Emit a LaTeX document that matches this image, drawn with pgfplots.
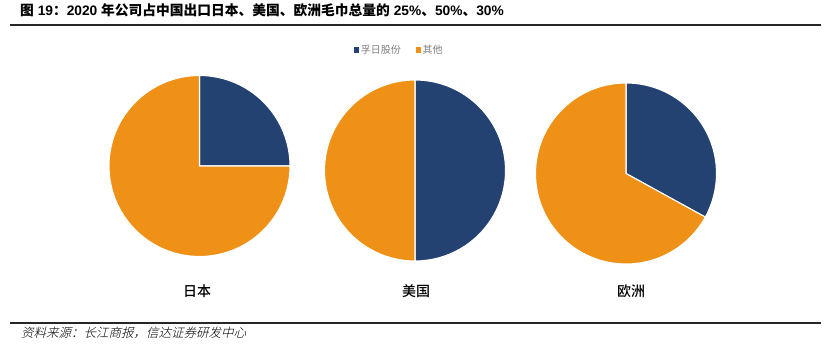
\documentclass[border=0pt]{standalone}
\usepackage{fontspec}
\setmainfont{Liberation Sans}
\newfontfamily\cjk{Noto Sans CJK SC}
\newfontfamily\cjkm{Noto Sans CJK SC Medium}
\newfontfamily\cjkb{Noto Sans CJK SC Bold}
\newfontfamily\cjksl[FakeSlant=0.25]{Noto Sans CJK SC Light}
\usepackage{pgfplots}
\usepackage{pgfplotstable}
\pgfplotsset{compat=1.18}
\definecolor{navy}{HTML}{234272}
\definecolor{orng}{HTML}{EE9116}
\definecolor{legtext}{HTML}{7F7F7F}

\pgfplotstableread{
region furi other
Japan  25 75
USA    50 50
Europe 33 67
}\sharetable
\pgfplotstablegetelem{0}{furi}\of\sharetable\edef\vJ{\pgfplotsretval}
\pgfplotstablegetelem{1}{furi}\of\sharetable\edef\vU{\pgfplotsretval}
\pgfplotstablegetelem{2}{furi}\of\sharetable\edef\vE{\pgfplotsretval}

\pgfplotsset{pie/.style={
  x=90.5pt, y=90.5pt,
  xmin=-1, xmax=1, ymin=-1, ymax=1,
  hide axis, anchor=center, clip=false}}

\newcommand{\pieslices}[1]{%
  \fill[navy, draw=white, line width=1.1pt] (axis cs:0,0) -- (axis cs:0,1)
     arc[start angle=90, end angle={90-3.6*#1}, radius=90.5pt] -- cycle;
  \fill[orng, draw=white, line width=1.1pt] (axis cs:0,0) -- (axis cs:0,1)
     arc[start angle=90, end angle={90+3.6*(100-#1)}, radius=90.5pt] -- cycle;
}

\begin{document}
\begin{tikzpicture}
\path[use as bounding box] (0,0) rectangle (825pt,355pt);

% title
\node[anchor=west, inner sep=0pt, font=\bfseries\fontsize{13.75}{15}\selectfont]
  at (20pt,345pt) {{\cjkb 图} 19{\cjkb ：}2020 {\cjkb 年公司占中国出口日本、美国、欧洲毛巾总量的} 25\%{\cjkb 、}50\%{\cjkb 、}30\%};
\draw[line width=2pt, draw=black!85] (10pt,330pt) -- (821pt,330pt);

% pies
\begin{axis}[pie, at={(199.5pt,189pt)}]
\pieslices{\vJ}
\end{axis}
\begin{axis}[pie, at={(415pt,184.5pt)},
  legend style={at={(axis description cs:0.413,1.165)}, anchor=center, draw=none,
    font=\cjk\fontsize{10}{11}\selectfont\color{legtext}, legend columns=2,
    /tikz/every odd column/.append style={column sep=0pt},
    /tikz/every even column/.append style={column sep=0pt}},
  legend image code/.code={\fill[#1] (0pt,-2pt) rectangle (4.5pt,2.5pt);}]
\addlegendimage{navy, fill=navy}
\addlegendentry{\makebox[53pt][l]{孚日股份}}
\addlegendimage{orng, fill=orng}
\addlegendentry{其他}
\pieslices{\vU}
\end{axis}
\begin{axis}[pie, at={(626pt,181.5pt)}]
\pieslices{\vE}
\end{axis}

% category labels
\node[font=\cjkm\fontsize{14}{16}\selectfont] at (197pt,64pt) {日本};
\node[font=\cjkm\fontsize{14}{16}\selectfont] at (416pt,64pt) {美国};
\node[font=\cjkm\fontsize{14}{16}\selectfont] at (631pt,64pt) {欧洲};

% source
\draw[line width=1.6pt, draw=black!85] (10pt,32pt) -- (821pt,32pt);
\node[anchor=west, inner sep=0pt, font=\cjksl\fontsize{12.5}{14}\selectfont]
  at (21pt,22pt) {资料来源：长江商报，信达证券研发中心};
\end{tikzpicture}
\end{document}
